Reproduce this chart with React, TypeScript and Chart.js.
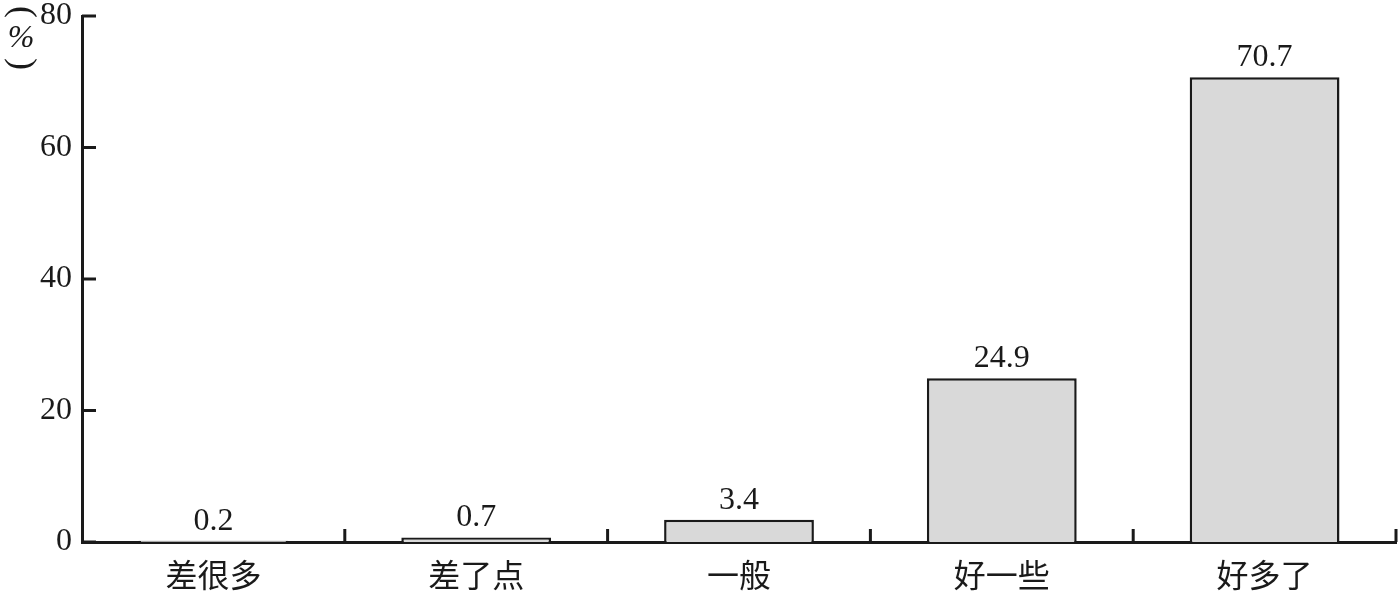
import { useEffect, useRef } from 'react'
import { Chart, registerables } from 'chart.js'

Chart.register(...registerables);

const categories = ['差很多', '差了点', '一般', '好一些', '好多了'];
const shares = [0.2, 0.7, 3.4, 24.9, 70.7];
const yTicks = [0, 20, 40, 60, 80];

const serif = '"Liberation Serif", "DejaVu Serif", serif';
const cjk = '"Noto Sans CJK SC", sans-serif';

// value labels above bars, inward ticks, vertical unit label
const decorations = {
  id: 'decorations',
  afterDraw(chart: Chart) {
    const { ctx, scales } = chart;
    const x = scales.x;
    const y = scales.y;
    const meta = chart.getDatasetMeta(0);
    ctx.save();

    ctx.fillStyle = '#1a1a1a';
    ctx.font = `32px ${serif}`;
    ctx.textAlign = 'center';
    ctx.textBaseline = 'alphabetic';
    meta.data.forEach((bar: any, i: number) => {
      ctx.fillText(shares[i].toFixed(1), bar.x, bar.y - 11);
    });

    ctx.strokeStyle = '#1a1a1a';
    ctx.lineWidth = 3;
    ctx.beginPath();
    yTicks.forEach(v => {
      const py = y.getPixelForValue(v);
      ctx.moveTo(x.left, py);
      ctx.lineTo(x.left + 14, py);
    });
    categories.forEach((_, i) => {
      const px = x.getPixelForValue(i + 0.5);
      ctx.moveTo(px, y.bottom);
      ctx.lineTo(px, y.bottom - 13);
    });
    ctx.stroke();

    // "(%)" written vertically
    ctx.font = `italic 32px ${serif}`;
    ctx.textAlign = 'center';
    ctx.textBaseline = 'middle';
    ctx.fillText('%', 21, 39);
    ctx.font = `36px ${serif}`;
    ctx.save();
    ctx.translate(21, 12);
    ctx.rotate(Math.PI / 2);
    ctx.fillText('(', 0, 0);
    ctx.restore();
    ctx.save();
    ctx.translate(21, 64);
    ctx.rotate(Math.PI / 2);
    ctx.fillText(')', 0, 0);
    ctx.restore();

    ctx.restore();
  },
};

export default function App() {
  const canvasRef = useRef<HTMLCanvasElement>(null);
  const chartRef = useRef<Chart | null>(null);

  useEffect(() => {
    document.body.style.margin = '0';
    if (canvasRef.current) {
      chartRef.current?.destroy();
      chartRef.current = new Chart(canvasRef.current, {
        type: 'bar',
        data: {
          labels: categories,
          datasets: [{
            data: shares,
            backgroundColor: '#d9d9d9',
            borderColor: '#1a1a1a',
            borderWidth: 2.5,
            borderSkipped: 'bottom',
            barPercentage: 0.57,
            categoryPercentage: 1,
          }],
        },
        options: {
          responsive: true,
          maintainAspectRatio: false,
          animation: false,
          layout: { padding: { top: 16, right: 4, left: 0, bottom: 0 } },
          plugins: {
            legend: { display: false },
            tooltip: { enabled: false },
          },
          scales: {
            x: {
              grid: { display: false, drawTicks: false },
              border: { display: true, color: '#1a1a1a', width: 3 },
              ticks: { color: '#1a1a1a', font: { family: cjk, size: 32 }, padding: 14, maxRotation: 0 },
              afterFit: (s: any) => { s.height = 51; s.paddingLeft = 0; s.paddingRight = 0; },
            },
            y: {
              min: 0,
              max: 80,
              grid: { display: false, drawTicks: false },
              border: { display: true, color: '#1a1a1a', width: 3 },
              ticks: { stepSize: 20, color: '#1a1a1a', font: { family: serif, size: 32 }, padding: 10 },
              afterFit: (s: any) => { s.width = 82; s.paddingTop = 0; s.paddingBottom = 0; },
            },
          },
        },
        plugins: [decorations],
      });
    }
    return () => {
      chartRef.current?.destroy();
    };
  }, []);

  return (
    <div style={{ position: 'fixed', left: 0, top: 0, width: 1400, height: 593, background: '#fff' }}>
      <canvas ref={canvasRef} />
    </div>
  );
}
